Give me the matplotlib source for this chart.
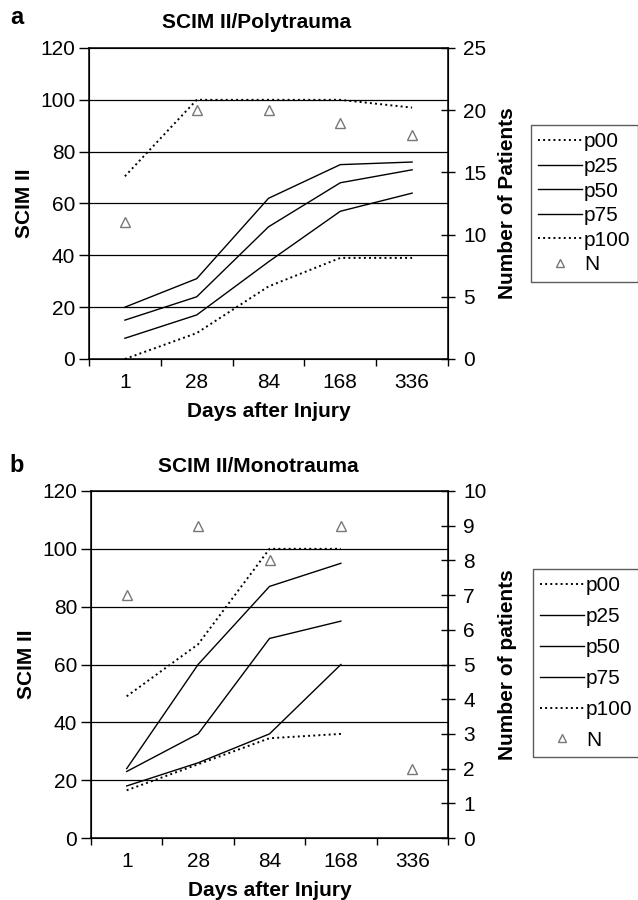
import numpy as np
import matplotlib
matplotlib.use('Agg')
import matplotlib.pyplot as plt
from matplotlib.lines import Line2D

plt.rcParams['font.family'] = ['Liberation Sans', 'DejaVu Sans']

days = ['1', '28', '84', '168', '336']

# Panel a: polytrauma
poly_p00 = [0, 10, 28, 39, 39]
poly_p25 = [8, 17, 37.5, 57, 64]
poly_p50 = [15, 24, 51, 68, 73]
poly_p75 = [20, 31, 62, 75, 76]
poly_p100 = [70.5, 100, 100, 100, 97]
poly_n = [11, 20, 20, 19, 18]

# Panel b: monotrauma (no percentiles at day 336)
mono_p00 = [16.5, 25.5, 34.5, 36]
mono_p25 = [18, 26, 36, 60]
mono_p50 = [23, 36, 69, 75]
mono_p75 = [24, 60, 87, 95]
mono_p100 = [49, 67, 100, 100]
mono_n = [7, 9, 8, 9, 2]

FS = 15


def draw_panel(fig, rect, title, letter, pcts, n, n_max, n_step, n_label,
               leg_anchor, leg_spacing, title_xy, letter_xy):
    ax = fig.add_axes(rect)
    x = np.arange(len(days))
    styles = [':', '-', '-', '-', ':']
    names = ['p00', 'p25', 'p50', 'p75', 'p100']
    handles = []
    for vals, ls, name in zip(pcts, styles, names):
        lw = 1.4 if ls == ':' else 1.0
        h, = ax.plot(x[:len(vals)], vals, ls=ls, color='black', lw=lw, label=name, zorder=3)
        handles.append(h)

    ax.set_xlim(-0.5, len(days) - 0.5)
    ax.set_ylim(0, 120)
    ax.set_yticks(np.arange(0, 121, 20))
    for g in range(20, 101, 20):
        ax.axhline(g, color='black', lw=0.9, zorder=1)
    ax.set_xticks(x)
    ax.set_xticklabels(days)
    ax.set_xticks(np.arange(-0.5, len(days)), minor=True)
    ax.tick_params(axis='x', which='major', length=0, labelsize=FS, pad=10)
    ax.tick_params(axis='x', which='minor', length=5, width=1, direction='out')
    ax.tick_params(axis='y', length=7, width=1, direction='out', labelsize=FS, pad=3)
    for s in ax.spines.values():
        s.set_linewidth(1.1)
    ax.set_ylabel('SCIM II', fontsize=FS, fontweight='bold', labelpad=4)
    ax.set_xlabel('Days after Injury', fontsize=FS, fontweight='bold', labelpad=7)

    ax2 = ax.twinx()
    ax2.set_ylim(0, n_max)
    ax2.set_yticks(np.arange(0, n_max + 0.1, n_step))
    ax2.tick_params(axis='y', length=10, width=1, direction='inout', labelsize=FS, pad=6)
    ax2.plot(x, n, ls='none', marker='^', ms=7, mfc='none', mec='#777777', mew=1.0, zorder=4)
    ax2.set_ylabel(n_label, fontsize=FS, fontweight='bold', labelpad=8)
    ax2.set_xlim(-0.5, len(days) - 0.5)

    nh = Line2D([], [], ls='none', marker='^', ms=5.5, mfc='none', mec='#777777', mew=1.0)
    handles.append(nh)
    leg = fig.legend(handles, names + ['N'], loc='upper left', bbox_to_anchor=leg_anchor,
                     fontsize=FS, frameon=True, fancybox=False, edgecolor='#333333',
                     handlelength=2.1, handletextpad=0.1, labelspacing=leg_spacing,
                     borderpad=0.35, borderaxespad=0)
    leg.get_frame().set_linewidth(1.0)

    fig.text(title_xy[0], title_xy[1], title, fontsize=FS, fontweight='bold',
             ha='center', va='center')
    fig.text(letter_xy[0], letter_xy[1], letter, fontsize=17, fontweight='bold',
             ha='center', va='center')
    return ax, ax2


W, H = 638, 900
fig = plt.figure(figsize=(W / 100, H / 100), dpi=100)

draw_panel(fig, [89 / W, 1 - 359 / H, 359 / W, 311 / H], 'SCIM II/Polytrauma', 'a',
           [poly_p00, poly_p25, poly_p50, poly_p75, poly_p100], poly_n, 25, 5,
           'Number of Patients', (531 / W, 1 - 125 / H), 0.27,
           (257 / W, 1 - 22 / H), (17 / W, 1 - 18 / H))

draw_panel(fig, [91 / W, 1 - 838 / H, 357 / W, 347 / H], 'SCIM II/Monotrauma', 'b',
           [mono_p00, mono_p25, mono_p50, mono_p75, mono_p100], mono_n, 10, 1,
           'Number of patients', (533 / W, 1 - 569 / H), 0.57,
           (258 / W, 1 - 466 / H), (17 / W, 1 - 465 / H))

fig.savefig('out.png', dpi=100)
